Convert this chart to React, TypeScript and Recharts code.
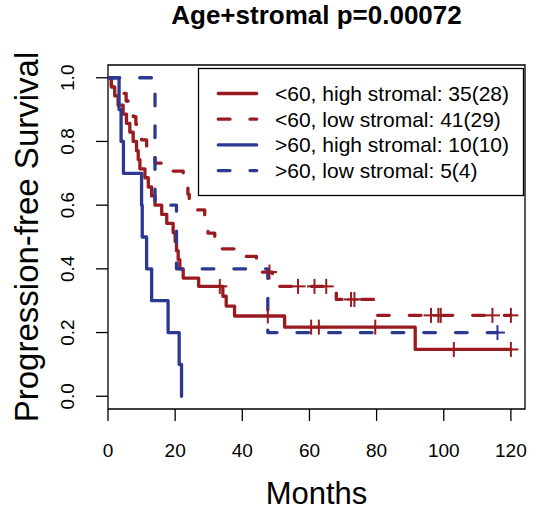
import React from 'react';
import { LineChart, Line, XAxis, YAxis, ReferenceArea } from 'recharts';

const RED = '#9a1b1f';
const BLUE = '#2c3892';
const FONT = '"Liberation Sans", Arial, Helvetica, sans-serif';
const DASH = '11.7 20';

// <60, high stromal: 35(28)
const youngHighTimes = [0, 1, 2, 3, 4.5, 5.5, 6.5, 7.5, 8.5, 9, 9.5, 11, 12, 13, 14, 16, 17.5, 19.4, 20, 20.4, 20.9, 21.4, 22.4, 27, 34.2, 35.2, 37.7, 52.6, 91.5];
const youngHighSurv = [1, 0.971, 0.943, 0.914, 0.886, 0.857, 0.829, 0.8, 0.771, 0.743, 0.714, 0.686, 0.657, 0.629, 0.6, 0.571, 0.543, 0.514, 0.486, 0.457, 0.429, 0.4, 0.371, 0.345, 0.314, 0.283, 0.252, 0.217, 0.147];
const youngHighCensor = [33.3, 47.6, 60.5, 62.8, 79.6, 103, 120];

// <60, low stromal: 41(29)
const youngLowTimes = [0, 1, 2, 5.4, 6.5, 7.5, 8.3, 9, 10, 11.5, 12.5, 14, 16.4, 22.4, 23, 23.8, 24.2, 26, 28.8, 29.3, 29.8, 31.8, 33, 37.7, 44.2, 45, 49, 68, 79.3];
const youngLowSurv = [1, 0.976, 0.951, 0.927, 0.902, 0.878, 0.854, 0.829, 0.805, 0.78, 0.756, 0.732, 0.707, 0.683, 0.659, 0.634, 0.61, 0.585, 0.561, 0.537, 0.512, 0.488, 0.463, 0.439, 0.415, 0.39, 0.345, 0.304, 0.254];
const youngLowCensor = [48.1, 56.6, 61.5, 65, 72.4, 73.4, 96.2, 98.4, 99.1, 114.5, 120];

// >60, high stromal: 10(10)
const oldHighTimes = [0, 3.3, 3.9, 4.6, 10, 10.2, 11.5, 13, 17.9, 21.2, 21.9];
const oldHighSurv = [1, 0.9, 0.8, 0.7, 0.6, 0.5, 0.4, 0.3, 0.2, 0.1, 0];
const oldHighCensor: number[] = [];

// >60, low stromal: 5(4)
const oldLowTimes = [0, 14, 20.4, 47.6];
const oldLowSurv = [1, 0.6, 0.4, 0.2];
const oldLowCensor = [116];

const xTicks = [0, 20, 40, 60, 80, 100, 120];
const yTicks = [0, 0.2, 0.4, 0.6, 0.8, 1.0];

const legendItems = [
  { label: '<60, high stromal: 35(28)', color: RED, dashed: false },
  { label: '<60, low stromal: 41(29)', color: RED, dashed: true },
  { label: '>60, high stromal: 10(10)', color: BLUE, dashed: false },
  { label: '>60, low stromal: 5(4)', color: BLUE, dashed: true },
];

interface Pt { t: number; s: number; c: boolean }

function buildCurve(times: number[], surv: number[], censor: number[]): Pt[] {
  const pts: Pt[] = times.map((t, i) => ({ t, s: surv[i], c: false }));
  censor.forEach((t) => {
    let s = surv[0];
    times.forEach((et, i) => {
      if (et <= t) s = surv[i];
    });
    pts.push({ t, s, c: true });
  });
  return pts.sort((a, b) => a.t - b.t);
}

const curves = [
  { key: 'yh', data: buildCurve(youngHighTimes, youngHighSurv, youngHighCensor), color: RED, dashed: false },
  { key: 'yl', data: buildCurve(youngLowTimes, youngLowSurv, youngLowCensor), color: RED, dashed: true },
  { key: 'oh', data: buildCurve(oldHighTimes, oldHighSurv, oldHighCensor), color: BLUE, dashed: false },
  { key: 'ol', data: buildCurve(oldLowTimes, oldLowSurv, oldLowCensor), color: BLUE, dashed: true },
];

const censorDot = (color: string) => (props: any) => {
  const { cx, cy, payload, index } = props;
  if (!payload || !payload.c) return <g key={`n${index}`} />;
  return (
    <g key={`c${index}`}>
      <line x1={cx - 7.5} x2={cx + 7.5} y1={cy} y2={cy} stroke={color} strokeWidth={2} />
      <line x1={cx} x2={cx} y1={cy - 7.5} y2={cy + 7.5} stroke={color} strokeWidth={2} />
    </g>
  );
};

const XTick = (props: any) => {
  const { x, y, payload } = props;
  return (
    <text x={x} y={y + 35.5} textAnchor="middle" fontSize={19} fontFamily={FONT} fill="#000">
      {payload.value}
    </text>
  );
};

const YTick = (props: any) => {
  const { x, y, payload } = props;
  const bx = x - 21.5;
  return (
    <text x={bx} y={y} transform={`rotate(-90, ${bx}, ${y})`} textAnchor="middle" fontSize={19} fontFamily={FONT} fill="#000">
      {Number(payload.value).toFixed(1)}
    </text>
  );
};

const App: React.FC = () => {
  return (
    <div style={{ position: 'absolute', left: 0, top: 0, width: 533, height: 511, background: '#fff' }}>
      <LineChart width={533} height={511} margin={{ top: 65, right: 8, bottom: 0, left: 0 }}>
        <XAxis
          type="number"
          dataKey="t"
          domain={[0, 124.2]}
          ticks={xTicks}
          interval={0}
          allowDataOverflow
          axisLine={false}
          stroke="#000"
          tickSize={12}
          tickMargin={0}
          tickLine={{ stroke: '#000', strokeWidth: 1.3 }}
          tick={<XTick />}
          height={102}
        />
        <YAxis
          type="number"
          dataKey="s"
          domain={[-0.04, 1.04]}
          ticks={yTicks}
          interval={0}
          allowDataOverflow
          axisLine={false}
          stroke="#000"
          tickSize={12}
          tickMargin={0}
          tickLine={{ stroke: '#000', strokeWidth: 1.3 }}
          tick={<YTick />}
          width={108}
        />
        {curves.map((c) => (
          <Line
            key={c.key}
            data={c.data}
            dataKey="s"
            type="stepAfter"
            stroke={c.color}
            strokeWidth={3.3}
            strokeDasharray={c.dashed ? DASH : undefined}
            strokeLinecap="round"
            strokeLinejoin="round"
            dot={censorDot(c.color)}
            activeDot={false}
            isAnimationActive={false}
          />
        ))}
        <ReferenceArea x1={0} x2={124.2} y1={-0.04} y2={1.04} fill="none" stroke="#000" strokeWidth={1.3} ifOverflow="visible" />
      </LineChart>

      {/* titles and legend */}
      <svg width={533} height={511} style={{ position: 'absolute', left: 0, top: 0, pointerEvents: 'none' }} fontFamily={FONT}>
        <text x={316.5} y={24} textAnchor="middle" fontSize={26} fontWeight="bold" fill="#000">
          Age+stromal p=0.00072
        </text>
        <text x={316.5} y={504} textAnchor="middle" fontSize={31} fill="#000">
          Months
        </text>
        <text x={37.5} y={237} transform="rotate(-90, 37.5, 237)" textAnchor="middle" fontSize={33} fill="#000">
          Progression-free Survival
        </text>
        <rect x={198.5} y={68.5} width={325} height={127} fill="none" stroke="#000" strokeWidth={1.3} />
        {legendItems.map((item, i) => {
          const ly = 93.5 + i * 25.7;
          return (
            <g key={item.label}>
              <line
                x1={218.3}
                x2={256.7}
                y1={ly}
                y2={ly}
                stroke={item.color}
                strokeWidth={3.3}
                strokeLinecap="round"
                strokeDasharray={item.dashed ? DASH : undefined}
              />
              <text x={275} y={ly + 7.5} fontSize={21} fill="#000">
                {item.label}
              </text>
            </g>
          );
        })}
      </svg>
    </div>
  );
};

export default App;
